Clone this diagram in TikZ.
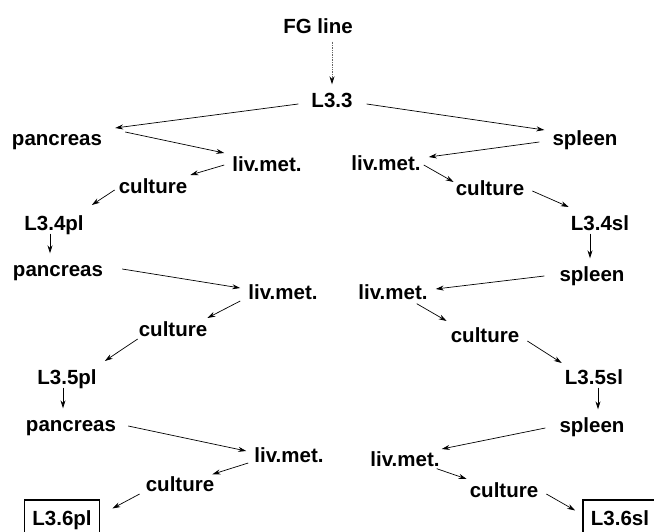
\documentclass[tikz,border=0pt]{standalone}
\usepackage{fontspec}
\setmainfont{Liberation Sans}
\usepackage{tikz}
\usetikzlibrary{arrows.meta,positioning}

\tikzset{
  lbl/.style={font=\bfseries\fontsize{20.5}{24}\selectfont, text height=21pt, text depth=4pt, inner xsep=8pt, inner ysep=2pt},
  endbox/.style={lbl, draw, line width=1.5pt, text depth=8pt, inner ysep=4pt},
  arr/.style={-{Stealth[length=8pt,width=5pt]}, line width=0.7pt},
  faint/.style={-{Stealth[length=8pt,width=5pt,black]}, line width=0.7pt, draw=black!60, densely dotted}
}

\begin{document}
\begin{tikzpicture}[x=1pt,y=-1pt]
\useasboundingbox (0,0) rectangle (654,532);
\node[lbl] (fg)  at (318,25) {FG line};
\node[lbl] (l33) at (332,99) {L3.3};
% pancreas line
\node[lbl] (pancA) at (57,137)  {pancreas};
\node[lbl] (livLA) at (267,163) {liv.met.};
\node[lbl] (culLA) at (153,185) {culture};
\node[lbl] (l34pl) at (54,222)  {L3.4pl};
\node[lbl] (pancB) at (58,268)  {pancreas};
\node[lbl] (livLB) at (283,291) {liv.met.};
\node[lbl] (culLB) at (173,328) {culture};
\node[lbl] (l35pl) at (67,376)  {L3.5pl};
\node[lbl] (pancC) at (71,423)  {pancreas};
\node[lbl] (livLC) at (289,454) {liv.met.};
\node[lbl] (culLC) at (180,483) {culture};
\node[endbox] (l36pl) at (62,518.5) {L3.6pl};
% spleen line
\node[lbl] (splA)  at (585,137) {spleen};
\node[lbl] (livRA) at (386,162) {liv.met.};
\node[lbl] (culRA) at (490,187) {culture};
\node[lbl] (l34sl) at (600,222) {L3.4sl};
\node[lbl] (splB)  at (592,273) {spleen};
\node[lbl] (livRB) at (393,291) {liv.met.};
\node[lbl] (culRB) at (485,334) {culture};
\node[lbl] (l35sl) at (594,376) {L3.5sl};
\node[lbl] (splC)  at (592,424) {spleen};
\node[lbl] (livRC) at (405,458) {liv.met.};
\node[lbl] (culRC) at (504,489) {culture};
\node[endbox] (l36sl) at (620,518.5) {L3.6sl};

\draw[faint] ([yshift=-2pt]fg.south -| l33.north) -- (l33.north);
% pancreas passages
\draw[arr] ([shift={(-5pt,-5pt)}]l33.west) -- ([shift={(5pt,9pt)}]pancA.east);
\draw[arr] ([shift={(15pt,5pt)}]pancA.east) -- ([yshift=10pt]livLA.west);
\draw[arr] ([yshift=-2pt]livLA.west) -- ([shift={(-5pt,10pt)}]culLA.east);
\draw[arr] ([shift={(4pt,-5pt)}]culLA.west) -- ([yshift=17pt]l34pl.east);
\draw[arr] ([shift={(-4pt,3pt)}]l34pl.south) -- ([xshift=-4pt]l34pl.south |- pancB.north);
\draw[arr] ([shift={(11pt,-1pt)}]pancB.east) -- ([yshift=3pt]livLB.west);
\draw[arr] ([yshift=-10pt]livLB.west) -- ([shift={(-8pt,10pt)}]culLB.east);
\draw[arr] ([shift={(7pt,-11pt)}]culLB.west) -- ([yshift=15pt]l35pl.east);
\draw[arr] ([shift={(-4pt,3pt)}]l35pl.south) -- ([xshift=-4pt]l35pl.south |- pancC.north);
\draw[arr] ([shift={(4pt,-3pt)}]pancC.east) -- ([yshift=3pt]livLC.west);
\draw[arr] ([shift={(2pt,-9pt)}]livLC.west) -- ([shift={(-10pt,-6pt)}]culLC.north east);
\draw[arr] ([shift={(2pt,-11pt)}]culLC.west) -- ([shift={(12pt,10pt)}]l36pl.east);
% spleen passages
\draw[arr] ([shift={(6pt,-5pt)}]l33.east) -- ([yshift=7pt]splA.west);
\draw[arr] ([shift={(-5pt,-5pt)}]splA.west) -- ([yshift=5pt]livRA.east);
\draw[arr] ([shift={(-5pt,-3pt)}]livRA.east) -- ([shift={(6pt,5pt)}]culRA.west);
\draw[arr] ([yshift=-4pt]culRA.east) -- ([shift={(6pt,15pt)}]l34sl.west);
\draw[arr] ([shift={(-10pt,3pt)}]l34sl.south) -- ([xshift=-10pt]l34sl.south |- splB.north);
\draw[arr] ([shift={(-7pt,-3pt)}]splB.west) -- ([yshift=2pt]livRB.east);
\draw[arr] ([shift={(-19pt,2pt)}]livRB.south east) -- ([shift={(4pt,13pt)}]culRB.west);
\draw[arr] ([yshift=-7pt]culRB.east) -- ([shift={(5pt,13pt)}]l35sl.west);
\draw[arr] ([shift={(4pt,3pt)}]l35sl.south) -- ([xshift=4pt]l35sl.south |- splC.north);
\draw[arr] ([shift={(-6pt,-4pt)}]splC.west) -- ([shift={(-6pt,9pt)}]livRC.east);
\draw[arr] ([shift={(-11pt,4pt)}]livRC.south east) -- ([shift={(5pt,10pt)}]culRC.west);
\draw[arr] ([yshift=-5pt]culRC.east) -- ([shift={(-7pt,8pt)}]l36sl.west);
\end{tikzpicture}
\end{document}
